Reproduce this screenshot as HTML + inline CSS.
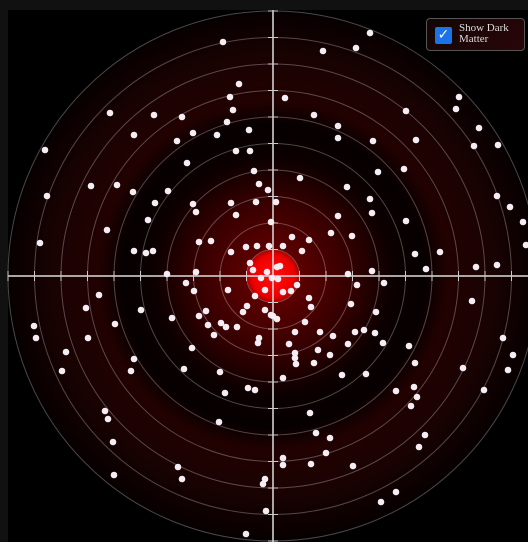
<!DOCTYPE html>
<html><head><meta charset="utf-8"><style>
html,body{margin:0;padding:0;background:#111;}
#wrap{position:relative;width:528px;height:542px;overflow:hidden;background:#111;}
svg{position:absolute;left:0;top:0;}
#ctrl{position:absolute;left:426px;top:18px;width:99px;height:33px;border:1px solid #555;border-radius:4px;background:linear-gradient(135deg,#120606,#2a0508);box-sizing:border-box;}
#cb{position:absolute;left:8px;top:8px;width:17px;height:17px;background:#1a73e8;border-radius:2px;color:#fff;font:bold 14px "DejaVu Sans",sans-serif;text-align:center;line-height:17px;}
#lbl{position:absolute;left:32px;top:4px;font:11px "Liberation Serif",serif;color:#ddd;line-height:11px;}
</style></head><body>
<div id="wrap">
<svg id="chart" width="528" height="542">
<defs>
<radialGradient id="bg" cx="273" cy="276" r="265" gradientUnits="userSpaceOnUse">
<stop offset="0" stop-color="#7a0000"/>
<stop offset="0.11" stop-color="#5a0000"/>
<stop offset="0.3" stop-color="#330000"/>
<stop offset="0.45" stop-color="#0c0000"/>
<stop offset="0.57" stop-color="#060000"/>
<stop offset="0.66" stop-color="#220101"/>
<stop offset="0.82" stop-color="#1a0202"/>
<stop offset="1" stop-color="#070000"/>
</radialGradient>
<radialGradient id="core" cx="0.5" cy="0.5" r="0.5">
<stop offset="0" stop-color="#ff1010"/><stop offset="0.8" stop-color="#ee0000"/><stop offset="1" stop-color="#b00000"/>
</radialGradient>
</defs>
<rect x="8" y="10" width="520" height="532" fill="#000"/>
<circle cx="273" cy="276" r="265" fill="url(#bg)"/>
<circle cx="273" cy="276" r="26" fill="url(#core)"/>
<g id="rings"></g><g id="axes"></g><g id="stars"></g>
</svg>
<div id="ctrl">
<div id="cb">✓</div>
<div id="lbl">Show Dark<br>Matter</div>
</div>
</div>
<script>
const ringValues=[1,2,3,4,5,6,7,8,9,10];
const starX=[-50,-34,-43,-40,-46,-24,-56,-37,-23,-19,-14,-5,-163,-119,-91,-139,-80,-96,-228,-86,-182,-156,-140,-105,-226,-118,-80,-77,-42,-17,-37,-125,-166,-2,-233,-74,-62,-139,-127,-120,-42,-27,-16,-4,-106,-77,-23,-20,-6,
97,50,83,12,41,133,186,183,206,65,65,100,143,201,225,105,131,27,74,97,99,133,224,237,250,253,65,58,79,19,36,10,29,142,167,153,203,224,75,99,3,
-239,-237,-174,-187,-158,-185,-207,-211,-132,-139,-142,-101,-87,-79,-45,-74,-67,-65,-52,-47,-36,-59,-30,-26,-18,-8,-8,-2,-14,-15,-81,-89,-53,-48,-25,-18,-168,-165,-54,-160,-159,-95,-91,-8,-10,-7,-27,
84,111,10,18,24,36,38,78,103,199,0,4,32,22,47,60,82,91,102,110,75,16,45,57,22,22,23,41,136,142,230,240,235,190,69,93,10,123,141,144,138,211,37,43,57,152,146,53,10,10,38,80,123,108,
-12,4,7,-1,5];
const starY=[234,192,179,166,154,146,141,125,125,105,92,86,163,161,159,141,143,135,126,113,90,91,84,85,80,73,72,64,73,74,61,56,46,54,33,34,35,25,23,25,24,29,30,30,2,4,13,6,4,
243,225,228,178,161,165,179,167,148,150,138,135,136,130,131,104,107,98,89,77,63,55,80,69,54,31,60,43,40,39,36,30,25,22,24,7,9,11,2,5,74,
-50,-62,-19,-32,-48,-62,-76,-95,-34,-83,-95,-42,-7,-15,-14,-40,-35,-49,-47,-51,-51,-59,-36,-30,-20,-14,-34,-39,-62,-67,-72,-93,-96,-117,-112,-114,-135,-143,-146,-166,-199,-191,-203,-203,-208,-235,-258,
-9,-7,-16,-15,-9,-22,-31,-28,-36,-25,-40,-43,-46,-56,-56,-60,-56,-54,-57,-67,-68,-68,-74,-79,-77,-82,-88,-87,-70,-87,-62,-79,-94,-92,-99,-98,-102,-115,-111,-121,-130,-114,-137,-157,-162,-159,-171,-177,-182,-189,-188,-190,-216,-226,
-2,9,10,-2,-3];
const CX=273,CY=276,UNIT=26.5;
function sx(v){return CX+v;}
function sy(v){return CY-v;}
function rr(k){return k*UNIT;}
const NS='http://www.w3.org/2000/svg';
const rings=document.getElementById('rings'),axes=document.getElementById('axes'),stars=document.getElementById('stars');
function mk(t,a){const e=document.createElementNS(NS,t);for(const k in a)e.setAttribute(k,a[k]);return e;}
ringValues.forEach(k=>{
  const c=mk('circle',{cx:CX,cy:CY,r:rr(k),fill:'none',stroke:'rgba(255,255,255,0.28)','stroke-width':1});
  
  
  rings.appendChild(c);
});
const hx=mk('line',{x1:8,y1:CY,x2:528,y2:CY,stroke:'#ddd','stroke-width':1.5});


axes.appendChild(hx);
const vy=mk('line',{x1:CX,y1:10,x2:CX,y2:542,stroke:'#ddd','stroke-width':1.5});


axes.appendChild(vy);
ringValues.forEach(k=>{
  [-1,1].forEach(s=>{
    const d=rr(k)*s;
    const t1=mk('line',{x1:CX+d,y1:CY-5,x2:CX+d,y2:CY+5,stroke:'#ccc','stroke-width':1});
    
    
    axes.appendChild(t1);
    const t2=mk('line',{x1:CX-5,y1:CY+d,x2:CX+5,y2:CY+d,stroke:'#ccc','stroke-width':1});
    
    
    axes.appendChild(t2);
  });
});
starX.forEach((x,i)=>{
  const c=mk('circle',{cx:sx(x),cy:sy(starY[i]),r:3.3,fill:'#f4eef4'});
  
  
  stars.appendChild(c);
});
</script>
</body></html>
